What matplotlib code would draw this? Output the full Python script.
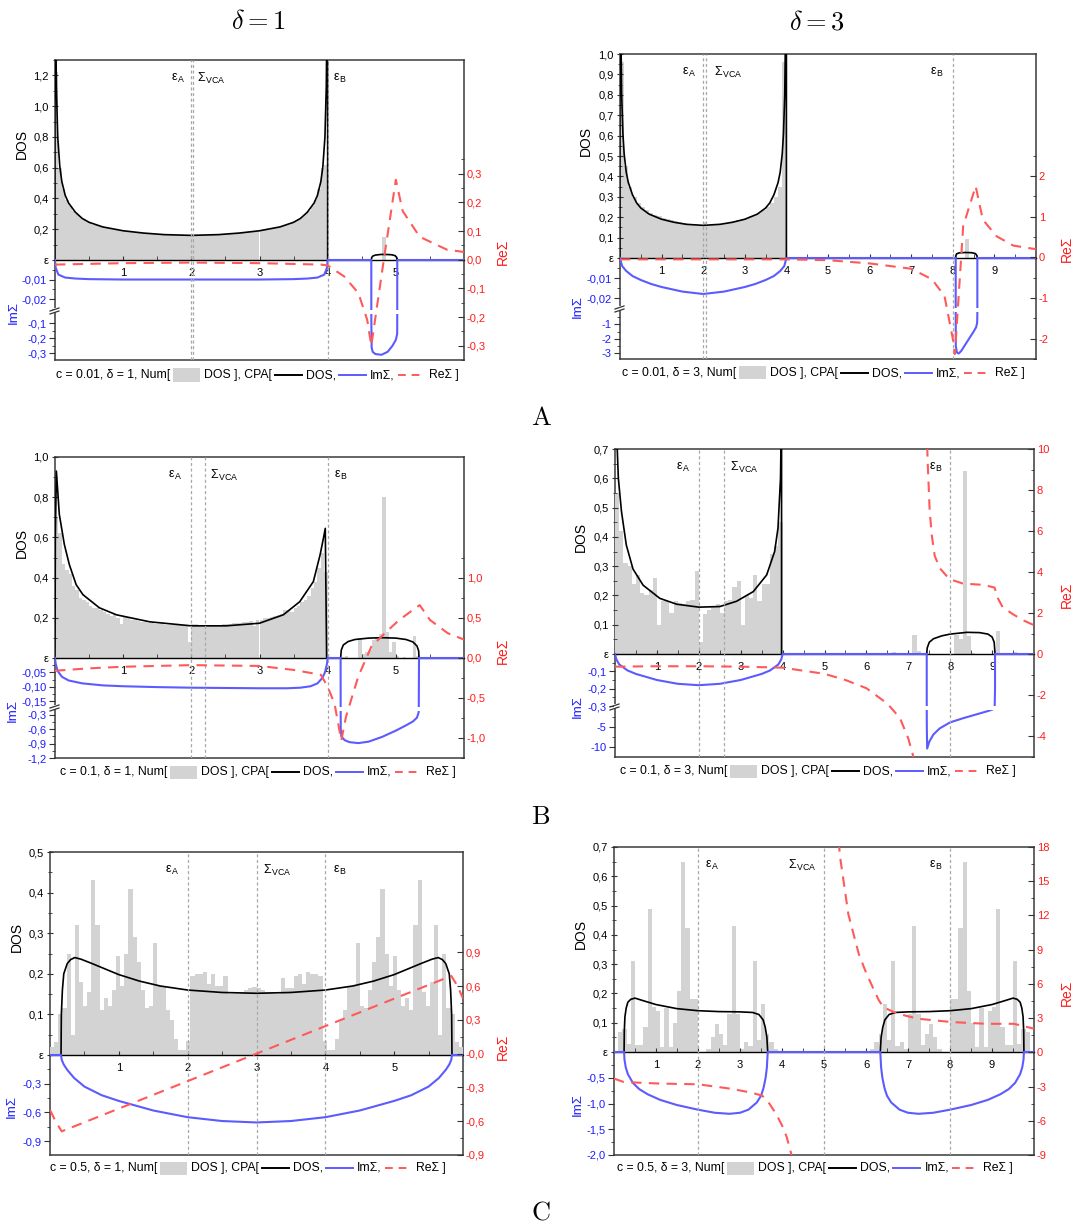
import numpy as np
import matplotlib.pyplot as plt
from matplotlib.lines import Line2D
from matplotlib.patches import Rectangle
from matplotlib.transforms import Bbox, TransformedBbox

nan = np.nan

# ---------------- A1: c = 0.01, delta = 1 ----------------
a1_hist_w = 0.05
a1_hist_h = [1.22, 0.60, 0.46, 0.39, 0.35, 0.32, 0.30, 0.28, 0.265, 0.25,
             0.24, 0.23, 0.225, 0.22, 0.21, 0.205, 0.20, 0.197, 0.193, 0.19,
             0.188, 0.185, 0.183, 0.18, 0.178, 0.176, 0.174, 0.172, 0.17, 0.168,
             0.167, 0.166, 0.165, 0.164, 0.163, 0.162, 0.161, 0.161, 0.16, 0.16,
             0.16, 0.16, 0.161, 0.161, 0.162, 0.163, 0.164, 0.165, 0.166, 0.167,
             0.168, 0.17, 0.172, 0.174, 0.176, 0.178, 0.18, 0.183, 0.185, 0.188,
             0.19, 0.193, 0.197, 0.20, 0.205, 0.21, 0.22, 0.225, 0.23, 0.24,
             0.25, 0.265, 0.28, 0.30, 0.32, 0.35, 0.39, 0.46, 0.60, 0.62]
a1_extra_x = [4.8]
a1_extra_h = [0.15]
a1_dos_x = [0, 0, 0.005, 0.01, 0.02, 0.04, 0.07, 0.1, 0.15, 0.2, 0.3, 0.4, 0.5, 0.7, 1.0, 1.3, 1.6,
            2.0, 2.4, 2.7, 3.0, 3.3, 3.5, 3.6, 3.7, 3.8, 3.85, 3.9, 3.93, 3.96, 3.98, 3.99, 3.995,
            4.0, 4.0, nan, 4.64, 4.645, 4.66, 4.7, 4.78, 4.86, 4.94, 4.99, 5.01, 5.02, 5.02]
a1_dos_y = [0, 3.0, 2.3, 1.6, 1.13, 0.80, 0.61, 0.51, 0.42, 0.37, 0.31, 0.27, 0.245, 0.215, 0.19, 0.175, 0.165,
            0.16, 0.165, 0.175, 0.19, 0.215, 0.245, 0.27, 0.31, 0.37, 0.42, 0.51, 0.61, 0.80, 1.13, 1.6, 2.3,
            3.0, 0, nan, 0, 0.015, 0.025, 0.032, 0.036, 0.036, 0.034, 0.028, 0.018, 0.008, 0]
a1_im_x = [0, 0.01, 0.05, 0.15, 0.3, 0.5, 1.0, 2.0, 3.0, 3.5, 3.7, 3.85, 3.95, 3.99, 4.0,
           4.64, 4.641, 4.645, 4.66, 4.7, 4.79, 4.88, 4.95, 5.0, 5.02, 5.021, 6.0]
a1_im_y = [0, -0.004, -0.0075, -0.009, -0.0095, -0.0098, -0.01, -0.01, -0.01, -0.0098, -0.0095, -0.009,
           -0.0075, -0.004, 0, 0, -0.1, -0.26, -0.29, -0.305, -0.31, -0.29, -0.25, -0.21, -0.17, 0, 0]
a1_re_x = [0, 1, 2, 3, 3.9, 4.0, 4.24, 4.45, 4.58, 4.64, 4.83, 5.0, 5.1, 5.35, 5.75, 6.0]
a1_re_y = [-0.017, -0.012, -0.01, -0.012, -0.017, -0.02, -0.058, -0.116, -0.21, -0.30, 0.01, 0.279,
           0.17, 0.08, 0.035, 0.027]

# ---------------- A2: c = 0.01, delta = 3 ----------------
a2_hist_w = 0.1
a2_hist_h = [0.96, 0.45, 0.35, 0.30, 0.27, 0.25, 0.235, 0.222, 0.212, 0.204,
             0.197, 0.19, 0.185, 0.18, 0.175, 0.171, 0.168, 0.165, 0.162, 0.16,
             0.175, 0.16, 0.162, 0.165, 0.168, 0.171, 0.175, 0.18, 0.185, 0.19,
             0.197, 0.204, 0.212, 0.222, 0.235, 0.25, 0.27, 0.30, 0.35, 0.96]
a2_extra_x = [8.3]
a2_extra_h = [0.093]
a2_dos_x = [0, 0, 0.005, 0.01, 0.02, 0.04, 0.07, 0.1, 0.15, 0.2, 0.3, 0.4, 0.5, 0.7, 1.0, 1.3, 1.6,
            2.0, 2.4, 2.7, 3.0, 3.3, 3.5, 3.6, 3.7, 3.8, 3.85, 3.9, 3.93, 3.96, 3.98, 3.99, 3.995,
            4.0, 4.0, nan, 8.07, 8.075, 8.09, 8.15, 8.3, 8.45, 8.54, 8.58, 8.59]
a2_dos_y = [0, 3.0, 2.3, 1.6, 1.13, 0.80, 0.61, 0.51, 0.42, 0.37, 0.31, 0.27, 0.245, 0.215, 0.19, 0.175, 0.165,
            0.16, 0.165, 0.175, 0.19, 0.215, 0.245, 0.27, 0.31, 0.37, 0.42, 0.51, 0.61, 0.80, 1.13, 1.6, 2.3,
            3.0, 0, nan, 0, 0.012, 0.02, 0.025, 0.027, 0.026, 0.022, 0.012, 0]
a2_im_x = [0, 0.05, 0.15, 0.3, 0.5, 0.75, 1.0, 1.5, 2.0, 2.5, 3.0, 3.25, 3.5, 3.7, 3.85, 3.95, 4.0,
           8.07, 8.072, 8.1, 8.14, 8.2, 8.3, 8.4, 8.5, 8.56, 8.585, 8.59, 8.59, 10.0]
a2_im_y = [0, -0.004, -0.0065, -0.009, -0.011, -0.013, -0.0145, -0.0168, -0.018, -0.0168, -0.0145, -0.013,
           -0.011, -0.009, -0.0065, -0.004, 0,
           0, -2.5, -2.95, -3.02, -2.85, -2.4, -1.95, -1.5, -1.2, -0.9, -0.3, 0, 0]
a2_re_x = [0, 2, 4, 5, 6, 7, 7.5, 7.8, 8.0, 8.05, 8.25, 8.55, 8.72, 9.05, 9.45, 10.0]
a2_re_y = [-0.05, -0.05, -0.05, -0.07, -0.15, -0.28, -0.54, -0.95, -2.0, -2.38, 0.77, 1.75, 0.93, 0.52,
           0.29, 0.2]

# ---------------- B1: c = 0.1, delta = 1 ----------------
b1_hist_w = 0.05
b1_hist_h = [0.70, 0.62, 0.47, 0.44, 0.42, 0.36, 0.34, 0.30, 0.29, 0.28,
             0.26, 0.25, 0.25, 0.24, 0.23, 0.22, 0.21, 0.22, 0.20, 0.17,
             0.21, 0.20, 0.19, 0.19, 0.185, 0.18, 0.18, 0.175, 0.175, 0.17,
             0.17, 0.168, 0.165, 0.165, 0.162, 0.163, 0.17, 0.162, 0.16, 0.08,
             0.17, 0.17, 0.16, 0.16, 0.16, 0.162, 0.163, 0.165, 0.165, 0.168,
             0.17, 0.17, 0.172, 0.175, 0.175, 0.18, 0.18, 0.185, 0.16, 0.19,
             0.19, 0.20, 0.20, 0.205, 0.21, 0.215, 0.22, 0.24, 0.24, 0.23,
             0.25, 0.26, 0.28, 0.29, 0.31, 0.35, 0.38, 0.45, 0.52, 0.43,
             0, 0, 0, 0, 0.005, 0.01, 0, 0, 0, 0.10,
             0.02, 0.03, 0.04, 0.09, 0.10, 0.12, 0.80, 0.13, 0.03, 0.08,
             0.01, 0, 0.005, 0, 0, 0.11, 0.01, 0, 0, 0.005, 0.005]
b1_extra_x = []
b1_extra_h = []
b1_dos_x = [0, 0.005, 0.02, 0.063, 0.137, 0.21, 0.31, 0.41, 0.65, 0.9, 1.39, 2.0, 2.51, 3.0, 3.35, 3.59,
            3.79, 3.89, 3.94, 3.965, 3.985, nan,
            4.19, 4.2, 4.23, 4.3, 4.4, 4.6, 4.8, 5.0, 5.15, 5.25, 5.31, 5.335, 5.34]
b1_dos_y = [0, 0.6, 0.93, 0.715, 0.565, 0.465, 0.365, 0.315, 0.25, 0.215, 0.18, 0.16, 0.16, 0.173, 0.215,
            0.28, 0.38, 0.515, 0.6, 0.645, 0, nan,
            0, 0.04, 0.065, 0.082, 0.092, 0.099, 0.101, 0.099, 0.092, 0.08, 0.06, 0.035, 0]
b1_im_x = [0, 0.01, 0.04, 0.1, 0.2, 0.4, 0.7, 1.0, 1.5, 2.0, 2.5, 3.0, 3.4, 3.6, 3.75, 3.85, 3.92, 3.96,
           3.99, 4.0, 4.19, 4.192, 4.2, 4.25, 4.32, 4.45, 4.6, 4.8, 5.0, 5.15, 5.25, 5.31, 5.335, 5.34, 6.0]
b1_im_y = [0, -0.02, -0.045, -0.065, -0.078, -0.088, -0.095, -0.098, -0.101, -0.103, -0.104, -0.105,
           -0.105, -0.103, -0.098, -0.088, -0.07, -0.05, -0.02, 0,
           0, -0.6, -0.75, -0.83, -0.87, -0.89, -0.86, -0.76, -0.63, -0.52, -0.44, -0.36, -0.25, 0, 0]
b1_re_x = [0, 0.5, 1.0, 2.0, 3.0, 3.5, 3.9, 4.0, 4.1, 4.2, 4.27, 4.45, 4.64, 4.84, 5.05, 5.35, 5.5, 5.76, 6.0]
b1_re_y = [-0.16, -0.13, -0.11, -0.09, -0.1, -0.15, -0.21, -0.36, -0.57, -1.03, -0.73, -0.23, 0.14, 0.31,
           0.475, 0.66, 0.475, 0.31, 0.23]

# ---------------- B2: c = 0.1, delta = 3 ----------------
b2_hist_w = 0.1
b2_hist_h = [0.55, 0.42, 0.31, 0.30, 0.24, 0.27, 0.21, 0.20, 0.22, 0.26,
             0.10, 0.18, 0.18, 0.14, 0.18, 0.175, 0.17, 0.18, 0.185, 0.285,
             0.04, 0.135, 0.15, 0.165, 0.17, 0.14, 0.18, 0.185, 0.23, 0.25,
             0.10, 0.20, 0.19, 0.27, 0.18, 0.24, 0.24, 0.34, 0.37, 0.45]
b2_extra_x = [6.6, 7.1, 7.2, 8.1, 8.2, 8.3, 8.4, 8.5, 9.1, 9.5]
b2_extra_h = [0.008, 0.065, 0.01, 0.065, 0.05, 0.625, 0.06, 0.005, 0.078, 0.008]
b2_dos_x = [0.02, 0.04, 0.08, 0.155, 0.27, 0.43, 0.67, 1.07, 1.47, 2.0, 2.5, 2.9, 3.3, 3.62, 3.81, 3.89,
            3.95, 3.97, 3.975, 3.975, nan,
            7.44, 7.45, 7.5, 7.6, 7.8, 8.0, 8.4, 8.7, 8.9, 9.0, 9.05, 9.07]
b2_dos_y = [1.0, 0.75, 0.6, 0.486, 0.372, 0.29, 0.235, 0.19, 0.17, 0.16, 0.162, 0.18, 0.213, 0.27, 0.35,
            0.43, 0.6, 0.8, 1.0, 0, nan,
            0, 0.02, 0.04, 0.052, 0.062, 0.068, 0.074, 0.073, 0.068, 0.058, 0.04, 0]
b2_im_x = [0, 0.03, 0.1, 0.3, 0.5, 1.0, 1.5, 2.0, 2.5, 3.0, 3.5, 3.7, 3.9, 3.97, 4.0,
           7.44, 7.442, 7.45, 7.5, 7.6, 7.75, 8.0, 8.3, 8.6, 8.9, 9.05, 9.07, 9.07, 10.0]
b2_im_y = [0, -0.03, -0.06, -0.095, -0.115, -0.15, -0.172, -0.18, -0.172, -0.15, -0.115, -0.095, -0.06,
           -0.03, 0, 0, -5.0, -10.3, -8.6, -6.8, -5.3, -3.8, -2.8, -1.9, -1.0, -0.45, -0.2, 0, 0]
b2_re_x = [0, 1, 2, 3, 4, 4.5, 5, 5.5, 6, 6.5, 6.8, 7.0, 7.15, nan,
           7.44, 7.46, 7.51, 7.56, 7.63, 7.75, 7.9, 8.0, 8.3, 8.8, 9.06, 9.12, 9.25, 9.5, 9.75, 10.0]
b2_re_y = [-0.6, -0.58, -0.58, -0.6, -0.65, -0.8, -0.95, -1.25, -1.65, -2.4, -3.1, -4.1, -5.2, nan,
           11, 9.5, 7.0, 5.8, 4.8, 4.2, 3.85, 3.65, 3.45, 3.38, 3.25, 2.8, 2.3, 1.95, 1.65, 1.42]

# ---------------- C1: c = 0.5, delta = 1 ----------------
c1_hist_w = 0.06
c1_hist_h = [0.02, 0.033, 0.1, 0.115, 0.25, 0.05, 0.32, 0.18, 0.12, 0.155,
             0.43, 0.32, 0.11, 0.14, 0.12, 0.16, 0.245, 0.17, 0.25, 0.41,
             0.29, 0.23, 0.16, 0.115, 0.12, 0.275, 0.17, 0.17, 0.11, 0.085,
             0.04, 0.012, 0.012, 0.035, 0.195, 0.2, 0.2, 0.205, 0.175, 0.2,
             0.17, 0.17, 0.195, 0.15, 0.15, 0.15, 0.155, 0.16, 0.165, 0.168,
             0.165, 0.16, 0.155, 0.155, 0.15, 0.15, 0.19, 0.165, 0.165, 0.195,
             0.2, 0.175, 0.205, 0.2, 0.2, 0.195, 0.035, 0.012, 0.012, 0.04,
             0.085, 0.11, 0.17, 0.17, 0.275, 0.12, 0.115, 0.16, 0.23, 0.29,
             0.41, 0.25, 0.17, 0.245, 0.16, 0.12, 0.14, 0.11, 0.32, 0.43,
             0.155, 0.12, 0.18, 0.32, 0.05, 0.25, 0.115, 0.1, 0.033, 0.02]
c1_extra_x = []
c1_extra_h = []
c1_dos_x = [0.16, 0.165, 0.18, 0.2, 0.25, 0.3, 0.36, 0.45, 0.6, 0.8, 1.0, 1.3, 1.6, 2.0, 2.5, 3.0, 3.5,
            4.0, 4.4, 4.7, 5.0, 5.2, 5.4, 5.55, 5.64, 5.7, 5.75, 5.8, 5.82, 5.835, 5.84]
c1_dos_y = [0, 0.1, 0.16, 0.2, 0.225, 0.235, 0.24, 0.236, 0.226, 0.212, 0.198, 0.182, 0.17, 0.16, 0.154,
            0.152, 0.154, 0.16, 0.17, 0.182, 0.198, 0.212, 0.226, 0.236, 0.24, 0.235, 0.225, 0.2, 0.16,
            0.1, 0]
c1_im_x = [0, 0.16, 0.17, 0.2, 0.25, 0.35, 0.5, 0.75, 1.0, 1.5, 2.0, 2.5, 3.0, 3.5, 4.0, 4.5, 5.0, 5.25,
           5.5, 5.65, 5.75, 5.8, 5.83, 5.84, 6.0]
c1_im_y = [0, 0, -0.05, -0.1, -0.155, -0.24, -0.33, -0.42, -0.48, -0.58, -0.65, -0.69, -0.705, -0.69,
           -0.65, -0.58, -0.48, -0.42, -0.33, -0.24, -0.155, -0.1, -0.05, 0, 0]
c1_re_x = [0, 0.08, 0.17, 1.0, 2.0, 3.0, 4.0, 5.0, 5.83, 5.92, 6.0]
c1_re_y = [-0.5, -0.6, -0.69, -0.488, -0.244, 0, 0.244, 0.488, 0.69, 0.6, 0.49]

# ---------------- C2: c = 0.5, delta = 3 ----------------
c2_hist_w = 0.1
c2_hist_h = [0.0, 0.067, 0.08, 0.026, 0.31, 0.024, 0.024, 0.086, 0.49, 0.155,
             0.14, 0.018, 0.15, 0.018, 0.1, 0.21, 0.65, 0.425, 0.18, 0.18,
             0.0, 0.0, 0.01, 0.05, 0.095, 0.06, 0.025, 0.13, 0.43, 0.13,
             0.01, 0.035, 0.02, 0.31, 0.04, 0.165, 0.06, 0.035, 0.01, 0.0,
             0, 0, 0, 0, 0, 0, 0, 0, 0, 0,
             0, 0, 0, 0, 0, 0, 0, 0, 0, 0,
             0.0, 0.01, 0.035, 0.06, 0.165, 0.04, 0.31, 0.02, 0.035, 0.01,
             0.13, 0.43, 0.13, 0.025, 0.06, 0.095, 0.05, 0.01, 0.0, 0.0,
             0.18, 0.18, 0.425, 0.65, 0.21, 0.1, 0.018, 0.15, 0.018, 0.14,
             0.155, 0.49, 0.086, 0.024, 0.024, 0.31, 0.026, 0.08, 0.067, 0.0]
c2_extra_x = []
c2_extra_h = []
c2_dos_x = [0.24, 0.245, 0.26, 0.29, 0.33, 0.4, 0.5, 0.7, 1.0, 1.5, 2.0, 2.5, 3.0, 3.3, 3.45, 3.55, 3.6,
            3.64, 3.66, nan,
            6.34, 6.36, 6.4, 6.45, 6.55, 6.7, 7.0, 7.5, 8.0, 8.5, 9.0, 9.3, 9.5, 9.6, 9.67, 9.71, 9.74,
            9.755, 9.76]
c2_dos_y = [0, 0.07, 0.12, 0.15, 0.17, 0.18, 0.184, 0.175, 0.162, 0.148, 0.141, 0.138, 0.137, 0.135,
            0.128, 0.11, 0.085, 0.05, 0, nan,
            0, 0.05, 0.085, 0.11, 0.128, 0.135, 0.137, 0.138, 0.141, 0.148, 0.162, 0.175, 0.184, 0.18,
            0.17, 0.15, 0.12, 0.07, 0]
c2_im_x = [0, 0.24, 0.25, 0.28, 0.33, 0.45, 0.6, 0.8, 1.1, 1.5, 2.0, 2.4, 2.75, 3.0, 3.2, 3.4, 3.5, 3.56,
           3.61, 3.64, 3.66,
           6.34, 6.36, 6.39, 6.44, 6.5, 6.6, 6.8, 7.0, 7.25, 7.6, 8.0, 8.5, 8.9, 9.2, 9.4, 9.55, 9.67,
           9.72, 9.75, 9.76, 10.0]
c2_im_y = [0, 0, -0.15, -0.3, -0.43, -0.6, -0.72, -0.82, -0.93, -1.03, -1.12, -1.18, -1.2, -1.18, -1.12,
           -0.98, -0.85, -0.7, -0.5, -0.3, 0,
           0, -0.3, -0.5, -0.7, -0.85, -0.98, -1.12, -1.18, -1.2, -1.18, -1.12, -1.03, -0.93, -0.82,
           -0.72, -0.6, -0.43, -0.3, -0.15, 0, 0]
c2_re_x = [0, 0.23, 1.09, 2.0, 2.8, 3.29, 3.53, 3.7, 3.86, 4.0, 4.11, 4.25, nan,
           5.35, 5.38, 5.58, 5.83, 6.0, 6.16, 6.3, 6.41, 6.74, 7.23, 8.05, 8.87, 9.52, 9.75, 10.0]
c2_re_y = [-2.3, -2.6, -2.74, -2.8, -3.2, -3.55, -3.8, -4.5, -5.4, -6.4, -7.4, -9.3, nan,
           18.5, 17.2, 12.1, 8.6, 7.0, 5.7, 4.6, 3.96, 3.4, 2.95, 2.65, 2.5, 2.5, 2.3, 2.07]

# ------------------------------------------------------------------
W, H = 1078, 1230
plt.rcParams['font.family'] = ['Liberation Sans', 'DejaVu Sans']
plt.rcParams['mathtext.fontset'] = 'cm'
fig = plt.figure(figsize=(W / 100, H / 100), dpi=100)

GRAY = '#d3d3d3'
BLUE = '#5b5bff'
RED = '#ff5a5a'
BLUE_T = '#1c1cff'
RED_T = '#ff1c1c'
VLINE = '#a8a8a8'
TS = 8


def box(l, r, t, b):
    return [l / W, 1 - b / H, (r - l) / W, (b - t) / H]


def rng(a, b, step):
    return list(np.round(np.arange(a, b + step / 2, step), 6))


def fmt(vals, nd):
    return [f'{v:.{nd}f}'.replace('.', ',') for v in vals]


def set_y(ax, major, minor, nd, color, side='left', direction='out'):
    ax.set_yticks(major, labels=fmt(major, nd))
    ax.set_yticks(minor, minor=True)
    if side == 'right':
        ax.yaxis.tick_right()
    ax.tick_params(axis='y', which='both', direction=direction, labelsize=TS, labelcolor=color,
                   color='#333333', pad=2)
    ax.tick_params(axis='y', which='major', length=4)
    ax.tick_params(axis='y', which='minor', length=2.5)


def bare(ax, xmax):
    ax.patch.set_visible(False)
    for s in ax.spines.values():
        s.set_visible(False)
    ax.set_xlim(0, xmax)
    ax.set_xticks([])


def key_row(x0, y, c, d):
    rend = fig.canvas.get_renderer()
    fy = 1 - y / H
    pos = [x0]

    def put_text(s):
        t = fig.text(pos[0] / W, fy, s, fontsize=8.8, ha='left', va='center')
        pos[0] += t.get_window_extent(rend).width

    def put_line(color, ls):
        pos[0] += 3
        fig.add_artist(Line2D([pos[0] / W, (pos[0] + 27) / W], [fy, fy], transform=fig.transFigure,
                              color=color, lw=1.4, ls=ls))
        pos[0] += 27 + 4

    put_text(f'c = {c}, δ = {d}, Num[')
    pos[0] += 3
    fig.add_artist(Rectangle((pos[0] / W, fy - 6.5 / H), 27 / W, 13 / H, transform=fig.transFigure,
                             color=GRAY, lw=0))
    pos[0] += 27 + 4
    put_text('DOS ], CPA[')
    put_line('k', '-')
    put_text('DOS,')
    put_line(BLUE, '-')
    put_text('ImΣ,')
    put_line(RED, (0, (4, 3)))
    put_text('ReΣ ]')


def draw_panel(p):
    l, r, t, z, brk, b = p['geom']
    xmax = p['xmax']

    fr = fig.add_axes(box(l, r, t, b))
    fr.set_xticks([])
    fr.set_yticks([])
    for s in fr.spines.values():
        s.set_color('#3a3a3a')
        s.set_linewidth(1.1)

    # DOS part
    ad = fig.add_axes(box(l, r, t, z))
    bare(ad, xmax)
    ad.spines['bottom'].set_visible(True)
    ad.spines['bottom'].set_color('k')
    ad.spines['bottom'].set_linewidth(1.0)
    ad.set_ylim(0, p['dos_top'])
    hw, hh = p['hist']
    ad.bar(np.arange(len(hh)) * hw, hh, width=hw, align='edge', color=GRAY, lw=0)
    if p['extra'][0]:
        ad.bar(p['extra'][0], p['extra'][1], width=hw, align='edge', color=GRAY, lw=0)
    ad.plot(p['dos'][0], p['dos'][1], color='k', lw=1.2)
    ad.set_xticks(range(1, xmax))
    ad.set_xticks(np.arange(0.5, xmax, 1.0), minor=True)
    ad.tick_params(axis='x', which='both', direction='in', length=3, pad=6, labelsize=TS,
                   color='#333333')
    dmaj = [0] + rng(*p['dos_major'])
    ad.set_yticks(dmaj, labels=['ε'] + fmt(dmaj[1:], 1))
    ad.set_yticks(rng(*p['dos_minor']), minor=True)
    ad.tick_params(axis='y', which='both', direction='inout', labelsize=TS, color='#333333', pad=2)
    ad.tick_params(axis='y', which='major', length=5)
    ad.tick_params(axis='y', which='minor', length=3)

    # ImSigma part (possibly broken)
    im_x, im_y = p['im']
    if brk:
        s = -p['im_up'] / (brk - z)
        au = fig.add_axes(box(l, r, z - 2, brk))
        bare(au, xmax)
        au.set_ylim(p['im_up'], 2 * s)
        au.plot(im_x, im_y, color=BLUE, lw=1.5)
        set_y(au, rng(*p['im_up_major']), rng(*p['im_up_minor']), p['im_up_nd'], BLUE_T)
        al = fig.add_axes(box(l, r, brk + 2, b))
        bare(al, xmax)
        al.set_ylim(*p['im_lo'])
        ln, = al.plot(im_x, im_y, color=BLUE, lw=1.5)
        hpx = b - (brk + 2)
        ln.set_clip_box(TransformedBbox(Bbox.from_extents(0, 0, 1, 1 - 2.0 / hpx), al.transAxes))
        set_y(al, rng(*p['im_lo_major']), rng(*p['im_lo_minor']), p['im_lo_nd'], BLUE_T)
    else:
        s = -p['im_up'] / (b - z)
        au = fig.add_axes(box(l, r, z - 2, b))
        bare(au, xmax)
        au.set_ylim(p['im_up'], 2 * s)
        au.plot(im_x, im_y, color=BLUE, lw=1.5)
        set_y(au, rng(*p['im_up_major']), rng(*p['im_up_minor']), p['im_up_nd'], BLUE_T)

    # ReSigma part
    ar = fig.add_axes(box(l, r, t, b))
    bare(ar, xmax)
    ar.set_ylim(*p['re_lim'])
    for xv in p['marks']:
        ar.axvline(xv, color=VLINE, lw=0.9, ls=(0, (2.5, 2)))
    ar.plot(p['re'][0], p['re'][1], color=RED, lw=1.5, ls=(0, (5, 3.5)))
    set_y(ar, rng(*p['re_major']), rng(*p['re_minor']), p['re_nd'], RED_T, side='right',
          direction='in')
    ylab = (b - (t + 18)) / (b - t)
    for txt, xv, ha in p['tags']:
        ar.text(xv, ylab, txt, transform=ar.get_xaxis_transform(), ha=ha, va='center', fontsize=9)

    # axis titles
    (dx, dy), (ix, iy), (rx, ry) = p['labs']
    fig.text(dx / W, 1 - dy / H, 'DOS', rotation=90, ha='center', va='center', fontsize=10)
    fig.text(ix / W, 1 - iy / H, 'ImΣ', rotation=90, ha='center', va='center', fontsize=9.5,
             color=BLUE_T)
    fig.text(rx / W, 1 - ry / H, 'ReΣ', rotation=90, ha='center', va='center', fontsize=10,
             color=RED_T)

    # break mark on the left spine
    if brk:
        fig.add_artist(Rectangle(((l - 1) / W, 1 - (brk + 2) / H), 3 / W, 4 / H,
                                 transform=fig.transFigure, color='white', lw=0, zorder=5))
        for dyy in (0, 3):
            fig.add_artist(Line2D([(l - 5) / W, (l + 4) / W],
                                  [1 - (brk + 1 + dyy) / H, 1 - (brk - 2 + dyy) / H],
                                  transform=fig.transFigure, color='#333333', lw=0.9, zorder=6))

    key_row(p['key'][0], p['key'][1], p['c'], p['d'])


EA = 'ε$_\\mathregular{A}$'
EB = 'ε$_\\mathregular{B}$'
SV = 'Σ$_\\mathregular{VCA}$'

panels = [
    dict(c='0.01', d='1', geom=(55, 464, 60, 260, 310, 360), xmax=6,
         hist=(a1_hist_w, a1_hist_h), extra=(a1_extra_x, a1_extra_h),
         dos=(a1_dos_x, a1_dos_y), im=(a1_im_x, a1_im_y), re=(a1_re_x, a1_re_y),
         dos_top=1.3, dos_major=(0.2, 1.2, 0.2), dos_minor=(0.1, 1.3, 0.2),
         im_up=-0.0256, im_up_major=(-0.02, -0.01, 0.01), im_up_minor=(-0.025, -0.005, 0.01), im_up_nd=2,
         im_lo=(-0.345, -0.023), im_lo_major=(-0.3, -0.1, 0.1), im_lo_minor=(-0.25, -0.15, 0.1), im_lo_nd=1,
         re_lim=(-0.348, 0.697), re_major=(-0.3, 0.3, 0.1), re_minor=(-0.35, 0.35, 0.1), re_nd=1,
         marks=[2, 2.02, 4], tags=[(EA, 1.9, 'right'), (SV, 2.08, 'left'), (EB, 4.08, 'left')],
         labs=((22, 144), (14, 313), (503, 252)), key=(56, 375)),
    dict(c='0.01', d='3', geom=(620, 1036, 54, 258, 308, 359), xmax=10,
         hist=(a2_hist_w, a2_hist_h), extra=(a2_extra_x, a2_extra_h),
         dos=(a2_dos_x, a2_dos_y), im=(a2_im_x, a2_im_y), re=(a2_re_x, a2_re_y),
         dos_top=1.0, dos_major=(0.1, 1.0, 0.1), dos_minor=(0.05, 0.95, 0.1),
         im_up=-0.025, im_up_major=(-0.02, -0.01, 0.01), im_up_minor=(-0.015, -0.005, 0.01), im_up_nd=2,
         im_lo=(-3.4, 0.0), im_lo_major=(-3, -1, 1), im_lo_minor=(-2.5, -0.5, 1), im_lo_nd=0,
         re_lim=(-2.48, 5.0), re_major=(-2, 2, 1), re_minor=(-2.5, 2.5, 1), re_nd=0,
         marks=[2, 2.06, 8], tags=[(EA, 1.83, 'right'), (SV, 2.25, 'left'), (EB, 7.78, 'right')],
         labs=((586, 141), (578, 307), (1067, 249)), key=(622, 373)),
    dict(c='0.1', d='1', geom=(55, 464, 457, 658, 707, 758), xmax=6,
         hist=(b1_hist_w, b1_hist_h), extra=(b1_extra_x, b1_extra_h),
         dos=(b1_dos_x, b1_dos_y), im=(b1_im_x, b1_im_y), re=(b1_re_x, b1_re_y),
         dos_top=1.0, dos_major=(0.2, 1.0, 0.2), dos_minor=(0.1, 0.9, 0.2),
         im_up=-0.17, im_up_major=(-0.15, -0.05, 0.05), im_up_minor=(-0.125, -0.025, 0.05), im_up_nd=2,
         im_lo=(-1.2, -0.18), im_lo_major=(-1.2, -0.3, 0.3), im_lo_minor=(-1.05, -0.45, 0.3), im_lo_nd=1,
         re_lim=(-1.25, 2.51), re_major=(-1.0, 1.0, 0.5), re_minor=(-1.25, 1.25, 0.5), re_nd=1,
         marks=[2, 2.2, 4], tags=[(EA, 1.86, 'right'), (SV, 2.27, 'left'), (EB, 4.09, 'left')],
         labs=((22, 543), (13, 710), (503, 651)), key=(60, 772)),
    dict(c='0.1', d='3', geom=(615, 1034, 449, 654, 706, 757), xmax=10,
         hist=(b2_hist_w, b2_hist_h), extra=(b2_extra_x, b2_extra_h),
         dos=(b2_dos_x, b2_dos_y), im=(b2_im_x, b2_im_y), re=(b2_re_x, b2_re_y),
         dos_top=0.7, dos_major=(0.1, 0.7, 0.1), dos_minor=(0.05, 0.65, 0.1),
         im_up=-0.3, im_up_major=(-0.3, -0.1, 0.1), im_up_minor=(-0.25, -0.05, 0.1), im_up_nd=1,
         im_lo=(-12.4, -0.24), im_lo_major=(-10, -5, 5), im_lo_minor=(-7.5, -2.5, 5), im_lo_nd=0,
         re_lim=(-5, 10), re_major=(-4, 10, 2), re_minor=(-5, 9, 2), re_nd=0,
         marks=[2, 2.6, 8], tags=[(EA, 1.8, 'right'), (SV, 2.74, 'left'), (EB, 7.82, 'right')],
         labs=((581, 537), (578, 706), (1067, 595)), key=(620, 771)),
    dict(c='0.5', d='1', geom=(50, 463, 852, 1055, None, 1155), xmax=6,
         hist=(c1_hist_w, c1_hist_h), extra=(c1_extra_x, c1_extra_h),
         dos=(c1_dos_x, c1_dos_y), im=(c1_im_x, c1_im_y), re=(c1_re_x, c1_re_y),
         dos_top=0.5, dos_major=(0.1, 0.5, 0.1), dos_minor=(0.05, 0.45, 0.1),
         im_up=-1.045, im_up_major=(-0.9, -0.3, 0.3), im_up_minor=(-0.75, -0.15, 0.3), im_up_nd=1,
         re_lim=(-0.9, 1.79), re_major=(-0.9, 0.9, 0.3), re_minor=(-0.75, 1.05, 0.3), re_nd=1,
         marks=[2, 3, 4], tags=[(EA, 1.87, 'right'), (SV, 3.1, 'left'), (EB, 4.11, 'left')],
         labs=((17, 937), (12, 1107), (503, 1047)), key=(50, 1168)),
    dict(c='0.5', d='3', geom=(614, 1034, 847, 1052, None, 1155), xmax=10,
         hist=(c2_hist_w, c2_hist_h), extra=(c2_extra_x, c2_extra_h),
         dos=(c2_dos_x, c2_dos_y), im=(c2_im_x, c2_im_y), re=(c2_re_x, c2_re_y),
         dos_top=0.7, dos_major=(0.1, 0.7, 0.1), dos_minor=(0.05, 0.65, 0.1),
         im_up=-2.0, im_up_major=(-2.0, -0.5, 0.5), im_up_minor=(-1.75, -0.25, 0.5), im_up_nd=1,
         re_lim=(-9, 18), re_major=(-9, 18, 3), re_minor=(-7.5, 16.5, 3), re_nd=0,
         marks=[2, 5, 8], tags=[(EA, 2.16, 'left'), (SV, 4.82, 'right'), (EB, 7.83, 'right')],
         labs=((581, 934), (578, 1104), (1067, 993)), key=(617, 1168)),
]

for p in panels:
    draw_panel(p)

fig.text(258 / W, 1 - 22 / H, r'$\delta = 1$', fontsize=19, ha='center', va='center')
fig.text(817 / W, 1 - 22 / H, r'$\delta = 3$', fontsize=19, ha='center', va='center')
for lab, yy in (('A', 418), ('B', 817), ('C', 1213)):
    fig.text(541 / W, 1 - yy / H, r'$\mathrm{%s}$' % lab, fontsize=19, ha='center', va='center')

fig.savefig('out.png', dpi=100)
